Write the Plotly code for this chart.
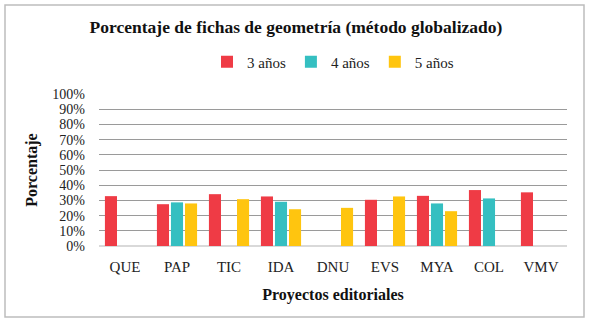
import plotly.graph_objects as go

categories = ["QUE", "PAP", "TIC", "IDA", "DNU", "EVS", "MYA", "COL", "VMV"]
series_names = ["3 años", "4 años", "5 años"]
anos3 = [32.8, 27.5, 34.1, 32.6, None, 30.4, 33.0, 36.8, 35.3]
anos4 = [None, 28.7, None, 29.1, None, None, 28.0, 31.3, None]
anos5 = [None, 28.0, 30.8, 24.2, 25.1, 32.6, 22.9, None, None]
tick_vals = [0, 10, 20, 30, 40, 50, 60, 70, 80, 90, 100]
tick_text = [f"{v}%" for v in tick_vals]

colors = ["#EF3B45", "#35BFC1", "#FFC50F"]
FONT = "Liberation Serif"

fig = go.Figure()
for name, vals, col in zip(series_names, [anos3, anos4, anos5], colors):
    fig.add_trace(go.Bar(x=categories, y=vals, name=name,
                         marker=dict(color=col, line=dict(width=0))))

W, H = 592, 324
L, R, T, B = 99, 25, 94, 78
pw = W - L - R
ph = H - T - B

def px_x(x):
    return (x - L) / pw

def px_y(y):
    return (H - B - y) / ph

fig.update_layout(
    width=W, height=H,
    margin=dict(l=L, r=R, t=T, b=B),
    paper_bgcolor="white", plot_bgcolor="white",
    barmode="group", bargap=0.19, bargroupgap=0.14,
    font=dict(family=FONT, color="#222222", size=14),
    title=dict(text="<b>Porcentaje de fichas de geometría (método globalizado)</b>",
               x=0.5, xanchor="center", y=1 - 27 / H, yanchor="middle",
               font=dict(family=FONT, size=17.5, color="#111111")),
    legend=dict(orientation="h", x=0.5, xanchor="center", y=px_y(62), yanchor="middle",
                font=dict(family=FONT, size=15, color="#222222"),
                itemwidth=30, tracegroupgap=0, bgcolor="rgba(0,0,0,0)"),
    xaxis=dict(
        title=dict(text="<b>Proyectos editoriales</b>", font=dict(family=FONT, size=16, color="#111111"),
                   standoff=14),
        tickfont=dict(family=FONT, size=15, color="#222222"),
        showgrid=False, showline=False, ticks="", ticklabelstandoff=10,
    ),
    yaxis=dict(
        title=dict(text="<b>Porcentaje</b>", font=dict(family=FONT, size=16, color="#111111"),
                   standoff=10),
        range=[0, 100], tickvals=tick_vals, ticktext=tick_text,
        tickfont=dict(family=FONT, size=14, color="#222222"),
        showgrid=True, gridcolor="#9a9a9a", gridwidth=1.3,
        zeroline=True, zerolinecolor="#d9d9d9", zerolinewidth=1.5,
        ticks="", showline=False, ticklabelstandoff=13,
    ),
    showlegend=True,
)

fig.add_shape(type="rect", xref="paper", yref="paper",
              x0=px_x(5), x1=px_x(584), y0=px_y(317), y1=px_y(5),
              line=dict(color="#bdbdbd", width=1.5), fillcolor="rgba(0,0,0,0)", layer="above")

fig.write_html("out.html",
               config={"displayModeBar": False},
               post_script="document.body.style.margin='0px';document.body.style.overflow='hidden';")
